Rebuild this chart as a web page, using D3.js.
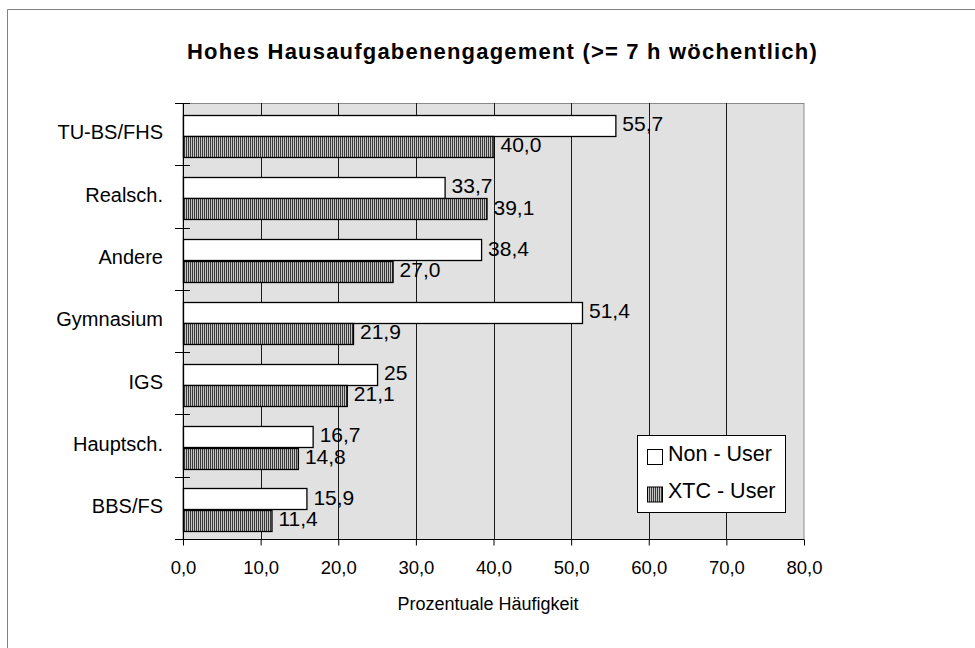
<!DOCTYPE html>
<html>
<head>
<meta charset="utf-8">
<script src="https://cdn.jsdelivr.net/npm/d3@7"></script>
<style>
    body { margin: 0; background: #fff; }
    text { font-family: "Liberation Sans", Arial, sans-serif; fill: #000; }
</style>
</head>
<body>
<svg id="chart"></svg>
<script>
// data
const categories = ["TU-BS/FHS", "Realsch.", "Andere", "Gymnasium", "IGS", "Hauptsch.", "BBS/FS"];
const nonUser = [55.7, 33.7, 38.4, 51.4, 25, 16.7, 15.9];
const xtcUser = [40.0, 39.1, 27.0, 21.9, 21.1, 14.8, 11.4];
const seriesNames = ["Non - User", "XTC - User"];
const xTicks = [0, 10, 20, 30, 40, 50, 60, 70, 80];

const width = 975;
const height = 648;

const svg = d3.select("#chart")
    .attr("width", width)
    .attr("height", height);

// hatch for the XTC bars
const defs = svg.append("defs");
const pat = defs.append("pattern")
    .attr("id", "hatch")
    .attr("patternUnits", "userSpaceOnUse")
    .attr("width", 2)
    .attr("height", 4);
pat.append("rect").attr("width", 2).attr("height", 4).attr("fill", "#c4c4c4");
pat.append("rect").attr("width", 1).attr("height", 4).attr("fill", "#3a3a3a");

// outer frame (only top and left are visible)
svg.append("path")
    .attr("d", "M7.5,648 V9.5 H975")
    .attr("fill", "none")
    .attr("stroke", "#808080");

const plot = { left: 183, right: 804, top: 103, bottom: 539 };

const x = d3.scaleLinear()
    .domain([0, 80])
    .range([plot.left, plot.right]);

const y = d3.scaleBand()
    .domain(categories)
    .range([plot.top, plot.bottom]);

const sub = d3.scaleBand()
    .domain([0, 1])
    .range([0, y.bandwidth()])
    .paddingOuter(0.46)
    .align(0.6);

// plot area
svg.append("rect")
    .attr("x", plot.left)
    .attr("y", plot.top + 0.5)
    .attr("width", plot.right - plot.left)
    .attr("height", plot.bottom - plot.top)
    .attr("fill", "#e1e1e1")
    .attr("stroke", "#8a8a8a");

// grid
svg.selectAll(".grid")
    .data(xTicks.slice(1, -1))
    .enter().append("line")
    .attr("x1", d => Math.round(x(d)) + 0.5)
    .attr("x2", d => Math.round(x(d)) + 0.5)
    .attr("y1", plot.top)
    .attr("y2", plot.bottom)
    .attr("stroke", "#1a1a1a");

// x axis
const fmtTick = v => d3.format(".1f")(v).replace(".", ",");
const xAxis = svg.append("g")
    .attr("transform", `translate(0,${plot.bottom + 0.5})`)
    .call(d3.axisBottom(x).tickValues(xTicks).tickSize(6).tickPadding(15).tickFormat(fmtTick));
xAxis.select(".domain").attr("stroke", "#000").attr("d", `M${plot.left},0H${plot.right}`);
xAxis.selectAll(".tick line").attr("stroke", "#000");
xAxis.selectAll("text")
    .attr("fill", "#000")
    .style("font-size", "18.5px")
    .style("font-family", "'Liberation Sans', Arial, sans-serif");

// y axis: crossing ticks at the band edges
const yEdges = categories.map(c => y(c)).concat([plot.bottom]);
svg.selectAll(".ytick")
    .data(yEdges)
    .enter().append("line")
    .attr("x1", plot.left - 8)
    .attr("x2", plot.left + 7)
    .attr("y1", d => Math.round(d) + 0.5)
    .attr("y2", d => Math.round(d) + 0.5)
    .attr("stroke", "#000");

svg.append("line")
    .attr("x1", plot.left + 0.5)
    .attr("x2", plot.left + 0.5)
    .attr("y1", plot.top)
    .attr("y2", plot.bottom)
    .attr("stroke", "#000");

svg.selectAll(".cat")
    .data(categories)
    .enter().append("text")
    .attr("x", 163)
    .attr("y", d => y(d) + y.bandwidth() / 2)
    .attr("text-anchor", "end")
    .attr("dominant-baseline", "middle")
    .style("font-size", "20px")
    .text(d => d);

// bars
const series = [
    { name: seriesNames[0], values: nonUser, fill: "#fff", fmt: v => String(v).replace(".", ",") },
    { name: seriesNames[1], values: xtcUser, fill: "url(#hatch)", fmt: v => d3.format(".1f")(v).replace(".", ",") }
];

series.forEach((s, si) => {
    const rows = categories.map((c, i) => ({ cat: c, v: s.values[i] }));
    svg.selectAll(".bar" + si)
        .data(rows)
        .enter().append("rect")
        .attr("x", plot.left + 0.5)
        .attr("y", d => Math.round(y(d.cat) + sub(si)) + 0.5)
        .attr("width", d => x(d.v) - plot.left)
        .attr("height", Math.round(sub.bandwidth()))
        .attr("fill", s.fill)
        .attr("stroke", "#000")
        .attr("stroke-width", 1.3);

    svg.selectAll(".lab" + si)
        .data(rows)
        .enter().append("text")
        .attr("x", d => x(d.v) + 7)
        .attr("y", d => y(d.cat) + sub(si) + sub.bandwidth() / 2)
        .attr("dominant-baseline", "middle")
        .style("font-size", "21px")
        .text(d => s.fmt(d.v));
});

// legend
const lg = svg.append("g").attr("transform", "translate(637,435)");
lg.append("rect")
    .attr("x", 0.5).attr("y", 0.5)
    .attr("width", 148).attr("height", 77)
    .attr("fill", "#fff")
    .attr("stroke", "#000");
series.forEach((s, i) => {
    const row = lg.append("g").attr("transform", `translate(0,${22 + i * 37.5})`);
    row.append("rect")
        .attr("x", 10.5).attr("y", -7.5)
        .attr("width", 15).attr("height", 15)
        .attr("fill", s.fill)
        .attr("stroke", "#000");
    row.append("text")
        .attr("x", 31)
        .attr("y", -2)
        .attr("dominant-baseline", "middle")
        .style("font-size", "21.5px")
        .text(s.name);
});

// titles
svg.append("text")
    .attr("x", 187)
    .attr("y", 59)
    .style("font-size", "22px")
    .style("font-weight", "bold")
    .style("letter-spacing", "1.2px")
    .text("Hohes Hausaufgabenengagement (>= 7 h wöchentlich)");

svg.append("text")
    .attr("x", 488)
    .attr("y", 610)
    .attr("text-anchor", "middle")
    .style("font-size", "18px")
    .text("Prozentuale Häufigkeit");
</script>
</body>
</html>
